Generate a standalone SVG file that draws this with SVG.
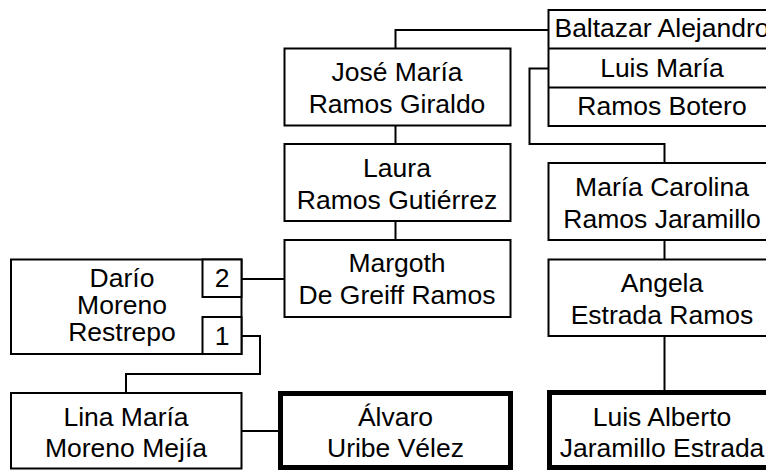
<svg xmlns="http://www.w3.org/2000/svg" width="766" height="471" viewBox="0 0 766 471">
<style>
rect{fill:#fff;stroke:#000;stroke-width:2}
rect.bold{stroke-width:5}
.con path,.div{fill:none;stroke:#000;stroke-width:2}
text{font-family:"Liberation Sans",Arial,sans-serif;font-size:26.5px;fill:#000;text-anchor:middle}
</style>
<rect x="0" y="0" width="766" height="471" style="stroke:none"/>
<g class="con" id="connectors">
<path d="M548,30H395.5V48"/>
<path d="M548,68.5H529.5V144H664.5V163"/>
<path d="M395.5,126V144"/>
<path d="M395.5,221V240"/>
<path d="M284,279H242"/>
<path d="M242,336H260V374H126V393"/>
<path d="M241,431H278"/>
<path d="M664.5,240V259"/>
<path d="M664.5,336V391"/>
</g>
<g id="baltazar">
<rect x="548.5" y="10" width="230" height="116"/>
<path class="div" d="M548.5,48.5H780M548.5,87.5H780"/>
<text x="662" y="37">Baltazar Alejandro</text>
<text x="662" y="77">Luis María</text>
<text x="662" y="115">Ramos Botero</text>
</g>
<g id="jose">
<rect x="284.5" y="48.5" width="226" height="77"/>
<text x="397" y="81">José María</text>
<text x="397" y="113">Ramos Giraldo</text>
</g>
<g id="laura">
<rect x="284.5" y="144" width="226" height="77"/>
<text x="397" y="176.5">Laura</text>
<text x="397" y="208.5">Ramos Gutiérrez</text>
</g>
<g id="margoth">
<rect x="284.5" y="240" width="226" height="77"/>
<text x="397" y="272">Margoth</text>
<text x="397" y="304">De Greiff Ramos</text>
</g>
<g id="carolina">
<rect x="548.5" y="163" width="230" height="77"/>
<text x="662" y="196">María Carolina</text>
<text x="662" y="228">Ramos Jaramillo</text>
</g>
<g id="angela">
<rect x="548.5" y="259.5" width="230" height="76.5"/>
<text x="662" y="292">Angela</text>
<text x="662" y="323.5">Estrada Ramos</text>
</g>
<g id="dario">
<rect x="11" y="259.5" width="230.5" height="94.5"/>
<rect x="202.5" y="259.5" width="39" height="37.5"/>
<rect x="202.5" y="317" width="39" height="37"/>
<text x="122" y="286.5">Darío</text>
<text x="122" y="313.5">Moreno</text>
<text x="122" y="340.5">Restrepo</text>
<text x="222" y="287">2</text>
<text x="222" y="345">1</text>
</g>
<g id="lina">
<rect x="11" y="393" width="230.5" height="75.5"/>
<text x="126" y="425.5">Lina María</text>
<text x="126" y="457">Moreno Mejía</text>
</g>
<g id="alvaro">
<rect class="bold" x="280.5" y="393.5" width="230" height="74"/>
<text x="395.5" y="425.5">Álvaro</text>
<text x="395.5" y="457">Uribe Vélez</text>
</g>
<g id="luisalberto">
<rect class="bold" x="549.5" y="392.5" width="230" height="75"/>
<text x="662" y="426">Luis Alberto</text>
<text x="662" y="456.5">Jaramillo Estrada</text>
</g>
</svg>
